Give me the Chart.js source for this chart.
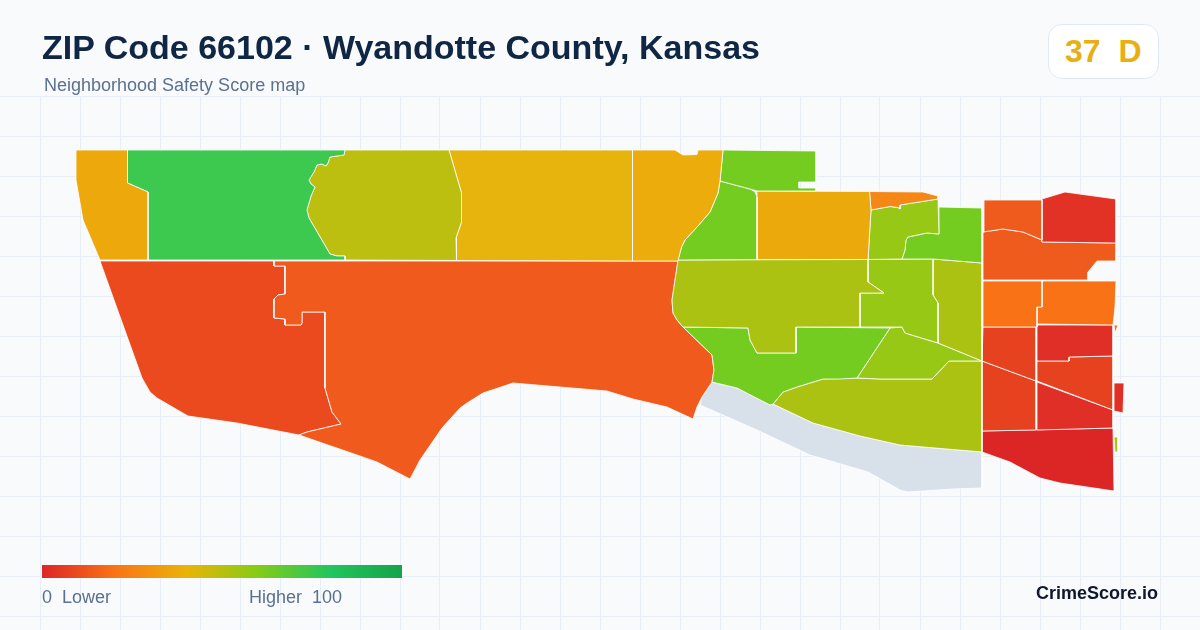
<!DOCTYPE html>
<html>
<head>
<meta charset="utf-8">
<title>ZIP Code 66102</title>
<script src="https://cdn.jsdelivr.net/npm/chart.js@4"></script>
<style>
  html, body { margin: 0; padding: 0; background: #f8fafc; }
  #wrap { position: relative; width: 1200px; height: 630px; overflow: hidden; background: #f8fafc; font-family: "Liberation Sans", Arial, sans-serif; }
  #map { position: absolute; left: 0; top: 0; }
  .txt { position: absolute; white-space: pre; line-height: 1; }
  #title { left: 42px; top: 30px; font-size: 34px; font-weight: bold; color: #0f2744; }
  #sub { left: 44px; top: 76px; font-size: 18px; color: #5a7190; }
  #badge { position: absolute; left: 1048px; top: 24px; width: 109px; height: 53px; background: #fff; border: 1px solid #e2e8f0; border-radius: 14px; }
  #score { left: 1065px; top: 35px; font-size: 32px; font-weight: bold; color: #e8ae12; }
  #bar { position: absolute; left: 42px; top: 565px; width: 360px; height: 13px; background: linear-gradient(90deg, #dc2626 0%, #f97316 20%, #eab308 40%, #84cc16 60%, #22c55e 80%, #16a34a 100%); }
  .leg { top: 588px; font-size: 18px; color: #5a7190; }
  #brand { right: 42px; top: 584px; font-size: 18px; font-weight: bold; color: #0f172a; }
</style>
</head>
<body>
<div id="wrap">
  <canvas id="map" width="1200" height="630"></canvas>
  <div class="txt" id="title">ZIP Code 66102 · Wyandotte County, Kansas</div>
  <div class="txt" id="sub">Neighborhood Safety Score map</div>
  <div id="badge"></div>
  <div class="txt" id="score">37  D</div>
  <div id="bar"></div>
  <div class="txt leg" style="left:42px">0  Lower</div>
  <div class="txt leg" style="left:249px">Higher  100</div>
  <div class="txt" id="brand">CrimeScore.io</div>
</div>
<script>
// outlines, in map units
const northWest = [[76,150],[127.5,150],[127.5,183],[148,192],[148,260],[100,260],[83,220],[76,180]];
const parkGreen = [[127.5,150],[345,150],[344,155],[330,157],[328,163],[326,166],[322,164],[317,165],[314,172],[309,180],[311,184],[315,187],[311,196],[307,210],[309,218],[330,254],[337,256],[345,256],[345,260],[148,260],[148,192],[127.5,183]];
const oliveNorth = [[345,150],[449,150],[461.5,193],[461.5,222],[456,238],[456.5,260.5],[345,260],[345,256],[337,256],[330,254],[309,218],[307,210],[311,196],[315,187],[311,184],[309,180],[314,172],[317,165],[322,164],[326,166],[328,163],[330,157],[344,155]];
const yellowNorth = [[449,150],[632.5,150],[632.5,261],[456.5,260.5],[456,238],[461.5,222],[461.5,193]];
const yellowEast = [[632.5,150],[675,150],[683,155],[697,154.5],[698,150],[723,150],[720,181],[718,193],[710,212],[697,227],[685,240],[681.5,247],[678,261],[632.5,261]];
const limeTop = [[723,150],[816,151],[816,182],[799,182],[799,188],[816,188],[816,191],[757,191],[750,189],[720,181]];
const limeBend = [[720,181],[750,189],[755,192],[757,197],[757,259.5],[678,260],[681.5,247],[685,240],[697,227],[710,212],[718,193]];
const amberBlock = [[757,191],[869.5,191.5],[871,210],[868,259.5],[757,259.5]];
const orangeSliver = [[869.5,191.5],[923,192],[938,196],[938,199],[900,205],[900,209],[898,207.5],[890,206.5],[871,210]];
const midGreen = [[871,210],[890,206.5],[898,207.5],[900,209],[900,205],[938,199],[939,234],[927,233],[908,237],[906,240],[905,250],[902,259],[868,259.5]];
const limeEast = [[939,207],[982,208],[982,263],[933,259],[902,259],[905,250],[906,240],[908,237],[927,233],[939,234]];
const oliveCentre = [[678,260],[868,259.5],[868,282],[884,293],[860,293],[860,327],[796,327],[796,353],[757,353],[750,340],[748,328],[683,327],[677,320],[673,313],[672,300]];
const greenCentre = [[868,259.5],[933,259],[933,295],[938,303],[938,343],[905,333],[902,327],[860,327],[860,293],[884,293],[868,282]];
const oliveStrip = [[933,259],[982,263],[982,361],[938,343],[938,303],[933,295]];
const limeSouth = [[683,327],[748,328],[750,340],[757,353],[796,353],[796,327],[890,328],[857,378],[840,379],[823,379],[797,387],[783,392],[773,404],[770,405],[737,388],[712,382],[714,370],[712,355]];
const greenSouth = [[890,328],[902,327],[905,333],[938,343],[982,361],[949,361],[932,379],[880,379],[857,378]];
const oliveRiver = [[949,361],[982,361],[982,452],[900,445],[860,436],[813,423],[773,404],[783,392],[797,387],[823,379],[857,378],[880,379],[932,379]];
const riverBank = [[712,382],[737,388],[770,405],[773,404],[813,423],[860,436],[900,445],[982,452],[982,488],[953,489],[907,492],[900,490],[868,472],[810,455],[757,430],[700,405],[702,397]];
const southMain = [[274,261],[274,266],[285,266],[285,294],[278,295],[274,299],[274,318],[285,319],[285,325],[301,325],[302,323],[302,312],[325,312],[325,388],[332,412],[341,424],[307,432],[299,435],[357,455],[377,462],[410,479],[420,460],[442,428],[460,408],[467,403],[483,393],[513,383],[607,391],[633,399],[667,407],[693,419],[697,407],[702,397],[712,382],[714,370],[712,355],[683,327],[677,320],[673,313],[672,300],[678,261]];
const southWest = [[100,261],[274,261],[274,266],[285,266],[285,294],[278,295],[274,299],[274,318],[285,319],[285,325],[301,325],[302,323],[302,312],[325,312],[325,388],[332,412],[341,424],[307,432],[299,435],[237,423],[188,416],[157,398],[150,392],[142,378]];
const eastCap = [[984,200],[1042,200],[1042,240],[1023,232],[1003,229],[983,232]];
const eastRed = [[1042,199],[1065,192],[1116,199],[1116,243],[1042,242]];
const eastBand = [[983,232],[1003,229],[1023,232],[1042,240],[1042,242],[1116,243],[1116,261],[1097,261],[1088,272],[1088,280],[983,280]];
const orangeLeft = [[983,281],[1042,281],[1042,307],[1037,307],[1037,327],[983,327]];
const orangeRight = [[1042,281],[1116,281],[1115,307],[1113,325],[1037,324],[1037,307],[1042,307]];
const orangeChip = [[1114,325],[1118,325],[1115,333]];
const blockUpper = [[983,327],[1036,327],[1036,381],[982,361]];
const blockLower = [[982,361],[1036,381],[1036,430],[982,431]];
const redUpper = [[1037,325],[1113,325],[1113,356],[1069,357],[1069,361],[1037,361]];
const blockEast = [[1037,361],[1069,361],[1069,357],[1113,356],[1113,410],[1037,381]];
const redLower = [[1037,382],[1113,410],[1113,428],[1037,430]];
const redSouth = [[982,431],[1113,428],[1114,491],[1060,483],[1040,478],[1010,462],[982,452]];
const redChip = [[1114,383],[1124,383],[1123,413],[1114,411]];
const limeChip = [[1114,437],[1118,437],[1118,452],[1115,452]];

const regionShapes = [northWest, parkGreen, oliveNorth, yellowNorth, yellowEast, limeTop, limeBend, amberBlock, orangeSliver, midGreen, limeEast, oliveCentre, greenCentre, oliveStrip, limeSouth, greenSouth, oliveRiver, southMain, southWest, eastCap, eastRed, eastBand, orangeLeft, orangeRight, orangeChip, blockUpper, blockLower, redUpper, blockEast, redLower, redSouth, redChip, limeChip, riverBank];
const regionColors = ['#eda80c', '#3dc950', '#bdbf10', '#e6b40c', '#ecac0c', '#74cc20', '#74cc20', '#eca90c', '#f58716', '#98c816', '#74cc20', '#abc212', '#98c816', '#abc212', '#74cc20', '#98c816', '#abc212', '#f05a1c', '#ea4a1e', '#ef5a1d', '#e23226', '#ef5a1d', '#f97316', '#f97316', '#f97316', '#e64220', '#e64220', '#e02f26', '#e64220', '#e02f26', '#dc2626', '#e02f26', '#abc212', '#d8e0e9'];

const gridX = [40,80,120,160,200,240,280,320,360,400,440,480,520,560,600,640,680,720,760,800,840,880,920,960,1000,1040,1080,1120,1160];
const gridY = [96,136,176,216,256,296,336,376,416,456,496,536,576,616];

const datasets = regionShapes.map((shape, i) => ({
    data: shape.concat([shape[0]]).map(p => ({ x: p[0], y: p[1] })),
    showLine: true,
    fill: 'shape',
    backgroundColor: regionColors[i],
    borderColor: '#ffffff',
    borderWidth: 0.8,
    pointRadius: 0,
    pointHoverRadius: 0,
    order: i === regionShapes.length - 1 ? 1 : 0
}));

new Chart(document.getElementById('map').getContext('2d'), {
    type: 'scatter',
    data: { datasets: datasets },
    options: {
        responsive: false,
        animation: false,
        devicePixelRatio: 1,
        layout: { padding: { top: 96 } },
        plugins: { legend: { display: false }, tooltip: { enabled: false } },
        scales: {
            x: {
                min: 0,
                max: 1200,
                afterBuildTicks: s => { s.ticks = gridX.map(v => ({ value: v })); },
                ticks: { display: false },
                grid: { color: '#e8eef5', drawTicks: false },
                border: { display: false }
            },
            y: {
                min: 96,
                max: 630,
                reverse: true,
                afterBuildTicks: s => { s.ticks = gridY.map(v => ({ value: v })); },
                ticks: { display: false },
                grid: { color: '#e8eef5', drawTicks: false },
                border: { display: false }
            }
        }
    }
});
</script>
</body>
</html>
